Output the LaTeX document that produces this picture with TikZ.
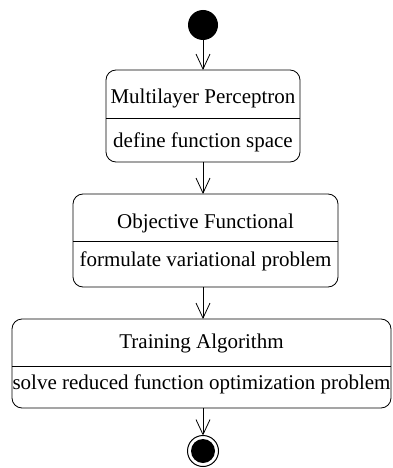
\documentclass[tikz,border=0pt]{standalone}
\usepackage{fontspec}
\setmainfont{Liberation Serif}
\usetikzlibrary{arrows.meta}
\begin{document}
\begin{tikzpicture}[x=1pt,y=-1pt,
  box/.style={draw, rounded corners=10pt, line width=0.8pt, inner sep=0pt, outer sep=0pt},
  lbl/.style={font=\fontsize{21}{25}\selectfont, anchor=base, inner sep=0pt},
  divline/.style={draw, line width=0.8pt},
  flow/.style={-{Straight Barb[length=15pt,width=14pt]}, line width=0.8pt}]
\useasboundingbox (0,0) rectangle (392,468);
% start
\node[circle, fill=black, minimum size=30pt, inner sep=0pt, outer sep=0pt] (start) at (203,25) {};
% box 1
\node[box, minimum width=194pt, minimum height=92pt] (b1) at (203,116) {};
\node[lbl] (t1) at (203,103) {Multilayer Perceptron};
\node[lbl] (s1) at (203,147) {define function space};
\draw[divline] (b1.west |- 0,118) -- (b1.east |- 0,118);
% box 2
\node[box, minimum width=265pt, minimum height=93pt] (b2) at (205.5,240.5) {};
\node[lbl] (t2) at (205.5,228) {Objective Functional};
\node[lbl] (s2) at (205.5,266) {formulate variational problem};
\draw[divline] (b2.west |- 0,241.5) -- (b2.east |- 0,241.5);
% box 3
\node[box, minimum width=379pt, minimum height=89pt] (b3) at (201.5,363.5) {};
\node[lbl] (t3) at (201.5,348) {Training Algorithm};
\node[lbl] (s3) at (201.5,389) {solve reduced function optimization problem};
\draw[divline] (b3.west |- 0,366) -- (b3.east |- 0,366);
% end
\node[circle, draw, line width=1pt, minimum size=31pt, inner sep=0pt, outer sep=0pt] (end) at (203,451) {};
\node[circle, fill=black, minimum size=24pt, inner sep=0pt] (endin) at (end) {};
% flows
\draw[flow] (start) -- (start |- b1.north);
\draw[flow] (start |- b1.south) -- (start |- b2.north);
\draw[flow] (start |- b2.south) -- (start |- b3.north);
\draw[flow] (start |- b3.south) -- (end.north);
\end{tikzpicture}
\end{document}
